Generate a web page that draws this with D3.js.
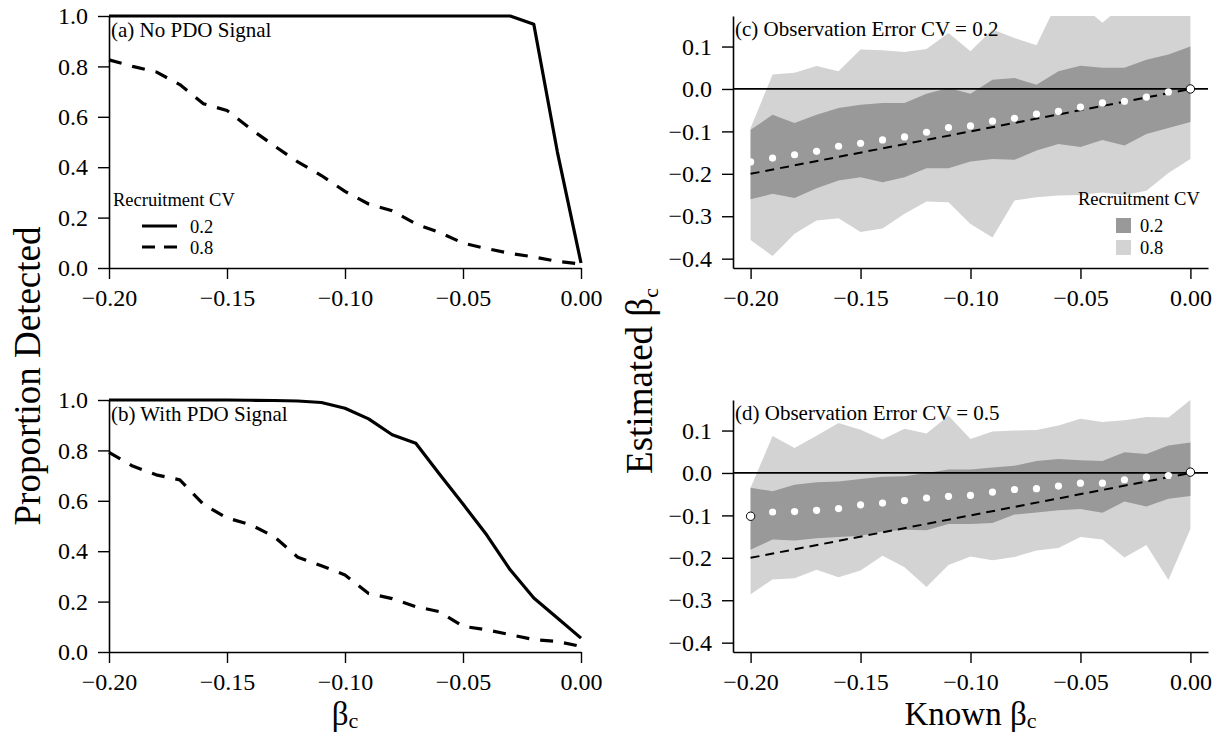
<!DOCTYPE html>
<html>
<head>
<meta charset="utf-8">
<script src="https://cdn.jsdelivr.net/npm/d3@7"></script>
<style>
  body { margin: 0; background: #fff; }
  svg { display: block; font-family: "Liberation Serif", "Times New Roman", serif; }
</style>
</head>
<body>
<svg id="chart" width="1217" height="736"></svg>
<script>
// x values shared by all four panels
const knownBeta = [-0.20, -0.19, -0.18, -0.17, -0.16, -0.15, -0.14, -0.13, -0.12, -0.11, -0.10,
                   -0.09, -0.08, -0.07, -0.06, -0.05, -0.04, -0.03, -0.02, -0.01, 0.00]

// (a) no PDO signal, proportion detected
const noPdoCv02 = [1, 1, 1, 1, 1, 1, 1, 1, 1, 1, 1, 1, 1, 1, 1, 1, 1, 1, 0.967, 0.46, 0.02]
const noPdoCv08 = [0.826, 0.80, 0.778, 0.728, 0.652, 0.625, 0.552, 0.485, 0.421, 0.367, 0.304,
                   0.254, 0.227, 0.175, 0.141, 0.099, 0.077, 0.058, 0.044, 0.026, 0.016]

// (b) with PDO signal
const pdoCv02 = [1, 1, 1, 1, 1, 1, 0.999, 0.998, 0.996, 0.99, 0.967,
                 0.925, 0.862, 0.828, 0.706, 0.587, 0.465, 0.326, 0.214, 0.135, 0.055]
const pdoCv08 = [0.792, 0.738, 0.703, 0.683, 0.586, 0.532, 0.505, 0.458, 0.376, 0.342, 0.306,
                 0.232, 0.212, 0.18, 0.16, 0.102, 0.088, 0.069, 0.049, 0.042, 0.022]

// (c) observation error CV = 0.2 : estimated beta ranges and means
const obs02Cv08Hi = [-0.092, 0.034, 0.038, 0.054, 0.042, 0.093, 0.091, 0.087, 0.094, 0.132, 0.089,
                     0.14, 0.12, 0.103, 0.21, 0.2, 0.156, 0.2, 0.2, 0.2, 0.2]
const obs02Cv08Lo = [-0.356, -0.394, -0.341, -0.31, -0.305, -0.337, -0.329, -0.294, -0.265, -0.267, -0.318,
                     -0.35, -0.263, -0.255, -0.251, -0.25, -0.244, -0.25, -0.24, -0.198, -0.165]
const obs02Cv02Hi = [-0.096, -0.061, -0.08, -0.061, -0.045, -0.037, -0.033, -0.033, -0.011, 0.002, -0.011,
                     0.022, 0.026, 0.01, 0.042, 0.055, 0.05, 0.05, 0.069, 0.081, 0.1]
const obs02Cv02Lo = [-0.26, -0.247, -0.257, -0.234, -0.216, -0.208, -0.22, -0.208, -0.187, -0.187, -0.171,
                     -0.165, -0.167, -0.145, -0.13, -0.137, -0.12, -0.133, -0.106, -0.092, -0.078]
const obs02Mean = [-0.172, -0.163, -0.155, -0.147, -0.135, -0.128, -0.12, -0.113, -0.102, -0.091, -0.087,
                   -0.076, -0.069, -0.059, -0.053, -0.043, -0.033, -0.029, -0.019, -0.007, 0.0]

// (d) observation error CV = 0.5
const obs05Cv08Hi = [-0.035, 0.087, 0.059, 0.088, 0.118, 0.102, 0.079, 0.104, 0.093, 0.135, 0.08,
                     0.098, 0.1, 0.101, 0.112, 0.128, 0.12, 0.124, 0.132, 0.131, 0.172]
const obs05Cv08Lo = [-0.286, -0.251, -0.248, -0.228, -0.246, -0.23, -0.195, -0.222, -0.269, -0.217, -0.197,
                     -0.206, -0.198, -0.183, -0.177, -0.151, -0.157, -0.199, -0.17, -0.252, -0.132]
const obs05Cv02Hi = [-0.035, -0.043, -0.028, -0.022, -0.02, -0.014, -0.009, -0.008, 0.0, 0.008, 0.008,
                     0.013, 0.017, 0.028, 0.033, 0.03, 0.028, 0.049, 0.045, 0.065, 0.072]
const obs05Cv02Lo = [-0.181, -0.157, -0.159, -0.154, -0.151, -0.148, -0.138, -0.134, -0.135, -0.12, -0.12,
                     -0.118, -0.098, -0.093, -0.088, -0.085, -0.094, -0.067, -0.079, -0.061, -0.054]
const obs05Mean = [-0.102, -0.092, -0.091, -0.088, -0.084, -0.075, -0.071, -0.065, -0.059, -0.055, -0.053,
                   -0.045, -0.039, -0.037, -0.031, -0.024, -0.024, -0.016, -0.01, -0.006, 0.002]

// ticks and legend entries
const betaTicks = [-0.20, -0.15, -0.10, -0.05, 0.00]
const propTicks = [0.0, 0.2, 0.4, 0.6, 0.8, 1.0]
const estTicks = [-0.4, -0.3, -0.2, -0.1, 0.0, 0.1]
const recruitCv = ['0.2', '0.8']

const svg = d3.select('#chart')
const font = '"Liberation Serif", "Times New Roman", serif'
const darkGrey = '#999999', lightGrey = '#d3d3d3'

svg.append('rect').attr('width', 1217).attr('height', 736).style('fill', '#fff')

//draws the two axes of a panel, box lines on left and bottom
const drawAxes = (xScale, yScale, yTicks, yFmt) => {
    const [yBottom] = yScale.range()
    const [xLeft] = xScale.range()

    const xAxis = svg.append('g')
        .attr('transform', `translate(0, ${yBottom})`)
        .call(d3.axisBottom(xScale).tickValues(betaTicks).tickFormat(d3.format('.2f'))
            .tickSize(11).tickSizeOuter(0).tickPadding(10))
    const yAxis = svg.append('g')
        .attr('transform', `translate(${xLeft}, 0)`)
        .call(d3.axisLeft(yScale).tickValues(yTicks).tickFormat(d3.format(yFmt))
            .tickSize(11).tickSizeOuter(0).tickPadding(10))

    ;[xAxis, yAxis].forEach(ax => {
        ax.select('.domain').style('stroke', '#000').style('stroke-width', 1.6)
        ax.selectAll('.tick line').style('stroke', '#000').style('stroke-width', 1.4)
        ax.selectAll('.tick text')
            .style('font-family', font)
            .style('font-size', '24px')
            .style('fill', '#000')
    })
}

const panelLabel = (x, y, txt) => {
    svg.append('text')
        .attr('x', x).attr('y', y)
        .style('font-size', '21px')
        .text(txt)
}

//left panels: proportion detected
const leftX = d3.scaleLinear().domain([-0.2, 0]).range([109, 581])
const propPanels = [
    {top: 16, bottom: 268, solid: noPdoCv02, dashed: noPdoCv08, label: '(a) No PDO Signal'},
    {top: 400, bottom: 652, solid: pdoCv02, dashed: pdoCv08, label: '(b) With PDO Signal'}
]

propPanels.forEach(p => {
    const yScale = d3.scaleLinear().domain([0, 1]).range([p.bottom, p.top])
    drawAxes(leftX, yScale, propTicks, '.1f')

    const line = d3.line()
        .x((d, i) => leftX(knownBeta[i]))
        .y(d => yScale(d))

    svg.append('path')
        .datum(p.solid)
        .attr('d', line)
        .style('fill', 'none')
        .style('stroke', '#000')
        .style('stroke-width', 3.2)
        .style('stroke-linejoin', 'round')

    svg.append('path')
        .datum(p.dashed)
        .attr('d', line)
        .style('fill', 'none')
        .style('stroke', '#000')
        .style('stroke-width', 3.2)
        .style('stroke-dasharray', '13,11')
        .style('stroke-linejoin', 'round')

    panelLabel(leftX(-0.2) + 2, p.top + 21, p.label)
})

//legend in panel (a)
const legA = svg.append('g')
legA.append('text')
    .attr('x', 113).attr('y', 206)
    .style('font-size', '18.5px')
    .text('Recruitment CV')
recruitCv.forEach((lab, i) => {
    const y = 226 + i * 21
    legA.append('line')
        .attr('x1', 142).attr('x2', 177)
        .attr('y1', y).attr('y2', y)
        .style('stroke', '#000')
        .style('stroke-width', 3.2)
        .style('stroke-dasharray', i === 0 ? null : '13,9')
    legA.append('text')
        .attr('x', 190).attr('y', y + 6.5)
        .style('font-size', '18.5px')
        .text(lab)
})

//right panels: estimated vs known beta
const rightX = d3.scaleLinear().domain([-0.208, 0.008]).range([733, 1208])
const estPanels = [
    {id: 'c', top: 16, bottom: 268, hi8: obs02Cv08Hi, lo8: obs02Cv08Lo, hi2: obs02Cv02Hi, lo2: obs02Cv02Lo,
     mean: obs02Mean, ringed: [20], label: '(c) Observation Error CV = 0.2'},
    {id: 'd', top: 400, bottom: 652, hi8: obs05Cv08Hi, lo8: obs05Cv08Lo, hi2: obs05Cv02Hi, lo2: obs05Cv02Lo,
     mean: obs05Mean, ringed: [0, 20], label: '(d) Observation Error CV = 0.5'}
]

estPanels.forEach(p => {
    const yScale = d3.scaleLinear().domain([-0.422, 0.172]).range([p.bottom, p.top])

    //clip. keeps the bands inside the plot region
    svg.append('defs').append('clipPath')
        .attr('id', `clip-${p.id}`)
        .append('rect')
        .attr('x', rightX.range()[0]).attr('y', p.top)
        .attr('width', rightX.range()[1] - rightX.range()[0])
        .attr('height', p.bottom - p.top)

    const g = svg.append('g').attr('clip-path', `url(#clip-${p.id})`)

    const band = (hi, lo) => d3.area()
        .x((d, i) => rightX(knownBeta[i]))
        .y0((d, i) => yScale(lo[i]))
        .y1((d, i) => yScale(hi[i]))

    g.append('path').datum(knownBeta).attr('d', band(p.hi8, p.lo8)).style('fill', lightGrey)
    g.append('path').datum(knownBeta).attr('d', band(p.hi2, p.lo2)).style('fill', darkGrey)

    //zero line and 1:1 line
    g.append('line')
        .attr('x1', rightX.range()[0]).attr('x2', rightX.range()[1])
        .attr('y1', yScale(0)).attr('y2', yScale(0))
        .style('stroke', '#000').style('stroke-width', 1.8)
    g.append('line')
        .attr('x1', rightX(-0.2)).attr('y1', yScale(-0.2))
        .attr('x2', rightX(0)).attr('y2', yScale(0))
        .style('stroke', '#000').style('stroke-width', 2)
        .style('stroke-dasharray', '9,6')

    g.selectAll('circle')
        .data(p.mean)
        .join('circle')
        .attr('cx', (d, i) => rightX(knownBeta[i]))
        .attr('cy', d => yScale(d))
        .attr('r', (d, i) => p.ringed.includes(i) ? 4.2 : 3.6)
        .style('fill', '#fff')
        .style('stroke', (d, i) => p.ringed.includes(i) ? '#000' : 'none')
        .style('stroke-width', 1)

    drawAxes(rightX, yScale, estTicks, '.1f')
    panelLabel(rightX.range()[0] + 2, p.top + 20, p.label)
})

//legend in panel (c)
const legC = svg.append('g')
legC.append('text')
    .attr('x', 1078).attr('y', 205)
    .style('font-size', '18.5px')
    .text('Recruitment CV')
recruitCv.forEach((lab, i) => {
    const y = 218 + i * 22
    legC.append('rect')
        .attr('x', 1116).attr('y', y)
        .attr('width', 15).attr('height', 15)
        .style('fill', i === 0 ? darkGrey : lightGrey)
    legC.append('text')
        .attr('x', 1140).attr('y', y + 14)
        .style('font-size', '18.5px')
        .text(lab)
})

//axis titles
const betaTitle = (sel, before, sub) => {
    sel.append('tspan').text(before + 'β')
    sel.append('tspan').attr('dy', sub).style('font-size', '22px').text('c')
}

svg.append('text')
    .attr('transform', 'translate(40, 376) rotate(-90)')
    .attr('text-anchor', 'middle')
    .style('font-size', '37px')
    .text('Proportion Detected')

svg.append('text')
    .attr('transform', 'translate(652, 381) rotate(-90)')
    .attr('text-anchor', 'middle')
    .style('font-size', '37px')
    .call(betaTitle, 'Estimated ', 6)

svg.append('text')
    .attr('x', leftX(-0.1)).attr('y', 725)
    .attr('text-anchor', 'middle')
    .style('font-size', '33px')
    .call(betaTitle, '', 3)

svg.append('text')
    .attr('x', (rightX.range()[0] + rightX.range()[1]) / 2).attr('y', 725)
    .attr('text-anchor', 'middle')
    .style('font-size', '33px')
    .call(betaTitle, 'Known ', 3)
</script>
</body>
</html>
